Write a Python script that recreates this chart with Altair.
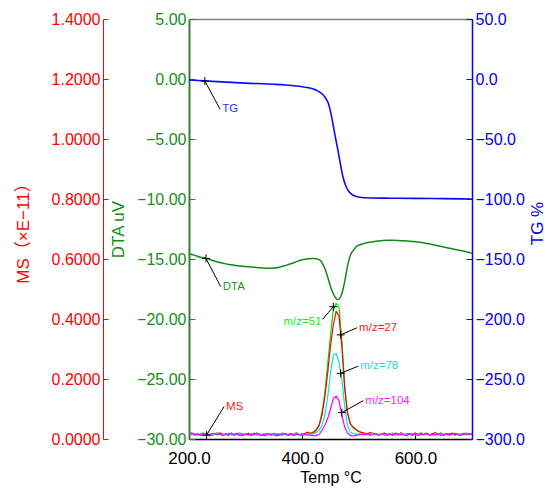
import altair as alt
import pandas as pd

FONT = "Liberation Sans, Arial, Noto Sans CJK JP, sans-serif"
W, H = 283, 420
MS_OFF = 86

# ---------------- data ----------------
# TG (%)
tg_T = [200, 250, 300, 350, 370, 390, 400, 410, 417, 425, 435, 440, 446, 450, 454,
        458, 463, 468, 472, 477, 481, 487, 493, 500, 511, 550, 600, 650, 700]
tg_V = [-0.8, -2.2, -3.4, -4.4, -5.0, -5.9, -6.5, -7.2, -7.9, -9.3, -12.3, -15.0, -20.0, -27.0, -36.5,
        -47.0, -59.0, -72.0, -81.5, -89.0, -92.8, -96.0, -97.5, -98.4, -99.0, -99.3, -99.5, -99.7, -100.0]

# DTA (uV)
dta_T = [200, 210, 220, 230, 240, 250, 260, 270, 280, 290, 300, 310, 320, 330, 340, 350, 360, 370,
         380, 390, 400, 410, 420, 425, 430, 435, 440, 445, 450, 455, 460, 463, 466, 470, 475, 480,
         485, 490, 495, 500, 510, 520, 530, 540, 550, 560, 570, 580, 590, 600, 620, 640, 660, 680, 700]
dta_V = [-14.55, -14.7, -14.85, -14.95, -15.1, -15.25, -15.35, -15.45, -15.52, -15.58, -15.63, -15.67,
         -15.7, -15.74, -15.78, -15.76, -15.68, -15.55, -15.4, -15.22, -15.07, -14.98, -14.95, -14.98,
         -15.05, -15.3, -15.8, -16.5, -17.3, -17.9, -18.3, -18.4, -18.3, -17.9, -16.9, -15.6, -14.7,
         -14.3, -14.0, -13.85, -13.7, -13.6, -13.52, -13.47, -13.44, -13.44, -13.45, -13.48, -13.52,
         -13.57, -13.7, -13.9, -14.1, -14.3, -14.52]

# MS (x E-11), sampled every 5 degC from 200 to 700
ms_T = list(range(200, 701, 5))

ms51_pre = [0.016, 0.014, 0.018, 0.013, 0.017, 0.020, 0.015, 0.012, 0.018, 0.016,
            0.021, 0.014, 0.017, 0.013, 0.019, 0.015, 0.012, 0.017, 0.020, 0.014,
            0.016, 0.013, 0.018, 0.015, 0.021, 0.013, 0.016, 0.019, 0.014, 0.017,
            0.012, 0.018, 0.015, 0.020, 0.014, 0.016, 0.019, 0.013, 0.017, 0.015,
            0.018, 0.016, 0.020]
ms51_peak = [0.020, 0.024, 0.032, 0.048, 0.090, 0.155, 0.250, 0.345, 0.430, 0.452,
             0.440, 0.330, 0.180, 0.090, 0.050, 0.037, 0.030, 0.024, 0.020]
ms51_post = [0.018, 0.014, 0.017, 0.021, 0.013, 0.016, 0.019, 0.012, 0.017, 0.015,
             0.020, 0.014, 0.018, 0.013, 0.016, 0.019, 0.015, 0.012, 0.018, 0.016,
             0.021, 0.014, 0.017, 0.013, 0.019, 0.015, 0.017, 0.020, 0.013, 0.016,
             0.018, 0.014, 0.019, 0.015, 0.012, 0.017, 0.020, 0.014, 0.016]

ms27_pre = [0.015, 0.019, 0.013, 0.017, 0.014, 0.012, 0.018, 0.016, 0.011, 0.015,
            0.017, 0.020, 0.013, 0.016, 0.012, 0.018, 0.015, 0.019, 0.013, 0.011,
            0.017, 0.015, 0.012, 0.019, 0.014, 0.016, 0.012, 0.015, 0.018, 0.013,
            0.016, 0.011, 0.017, 0.014, 0.019, 0.012, 0.015, 0.017, 0.020, 0.014,
            0.016, 0.019, 0.023]
ms27_peak = [0.018, 0.022, 0.030, 0.045, 0.080, 0.140, 0.220, 0.310, 0.380, 0.425,
             0.410, 0.310, 0.170, 0.085, 0.050, 0.040, 0.032, 0.026, 0.022]
ms27_post = [0.020, 0.017, 0.022, 0.015, 0.018, 0.013, 0.016, 0.020, 0.014, 0.017,
             0.012, 0.019, 0.015, 0.021, 0.013, 0.016, 0.018, 0.014, 0.020, 0.012,
             0.017, 0.015, 0.019, 0.013, 0.016, 0.022, 0.014, 0.017, 0.012, 0.018,
             0.015, 0.020, 0.013, 0.017, 0.015, 0.019, 0.014, 0.016, 0.018]

ms78_pre = [0.018, 0.015, 0.017, 0.014, 0.016, 0.019, 0.015, 0.017, 0.013, 0.016,
            0.018, 0.015, 0.014, 0.017, 0.016, 0.013, 0.018, 0.015, 0.017, 0.014,
            0.016, 0.019, 0.015, 0.013, 0.017, 0.016, 0.014, 0.018, 0.015, 0.017,
            0.013, 0.016, 0.018, 0.014, 0.017, 0.015, 0.013, 0.016, 0.018, 0.015,
            0.017, 0.014, 0.016]
ms78_peak = [0.016, 0.018, 0.022, 0.030, 0.045, 0.080, 0.140, 0.220, 0.280, 0.285,
             0.255, 0.200, 0.110, 0.045, 0.022, 0.018, 0.016, 0.017, 0.015]
ms78_post = [0.017, 0.014, 0.016, 0.019, 0.015, 0.013, 0.017, 0.016, 0.014, 0.018,
             0.015, 0.013, 0.016, 0.019, 0.014, 0.017, 0.015, 0.018, 0.013, 0.016,
             0.014, 0.017, 0.019, 0.015, 0.013, 0.016, 0.018, 0.014, 0.017, 0.015,
             0.013, 0.016, 0.019, 0.015, 0.017, 0.014, 0.016, 0.018, 0.015]

ms104_pre = [0.017, 0.020, 0.014, 0.016, 0.012, 0.018, 0.015, 0.011, 0.017, 0.019,
             0.014, 0.016, 0.012, 0.018, 0.015, 0.020, 0.013, 0.016, 0.011, 0.017,
             0.014, 0.019, 0.012, 0.016, 0.018, 0.013, 0.015, 0.011, 0.017, 0.014,
             0.019, 0.016, 0.012, 0.015, 0.018, 0.013, 0.017, 0.011, 0.016, 0.014,
             0.012, 0.015, 0.013]
ms104_peak = [0.013, 0.011, 0.012, 0.015, 0.030, 0.045, 0.068, 0.100, 0.135, 0.143,
              0.128, 0.080, 0.040, 0.020, 0.012, 0.010, 0.012, 0.014, 0.016]
ms104_post = [0.014, 0.017, 0.012, 0.016, 0.019, 0.013, 0.015, 0.018, 0.012, 0.016,
              0.014, 0.019, 0.013, 0.017, 0.015, 0.011, 0.018, 0.014, 0.016, 0.012,
              0.017, 0.015, 0.019, 0.013, 0.016, 0.014, 0.018, 0.012, 0.015, 0.017,
              0.013, 0.016, 0.019, 0.014, 0.012, 0.017, 0.015, 0.018, 0.014]

ions = ["m/z=51", "m/z=27", "m/z=78", "m/z=104"]
ion_colors = ["#00e600", "#ff0000", "#00e5e5", "#ff00ff"]

# annotations: marker point (T0, v0) -> label anchor (T1, v1)
tg_ann = {"T0": [228], "v0": [-1.7], "T1": [255], "v1": [-25.3], "label": ["TG"], "tc": ["#3030ff"]}
dta_ann = {"T0": [230], "v0": [-14.95], "T1": [256], "v1": [-17.3], "label": ["DTA"], "tc": ["#1a9a1a"]}
ms_ann = {"T0": [231, 455, 468, 468, 470],
          "v0": [0.013, 0.441, 0.347, 0.219, 0.088],
          "T1": [262, 436, 497, 499, 508],
          "v1": [0.108, 0.399, 0.371, 0.243, 0.128],
          "label": ["MS", "m/z=51", "m/z=27", "m/z=78", "m/z=104"],
          "tc": ["#ff1a1a", "#1ee61e", "#ff1a1a", "#1ad8e6", "#ff1aff"],
          "side": ["L", "R", "L", "L", "L"]}

ms_ticks = [0.0, 0.2, 0.4, 0.6, 0.8, 1.0, 1.2, 1.4]
dta_ticks = [5, 0, -5, -10, -15, -20, -25, -30]
tg_ticks = [50, 0, -50, -100, -150, -200, -250, -300]
x_ticks = [200, 400, 600]

# ---------------- frames ----------------
ms51 = ms51_pre + ms51_peak + ms51_post
ms27 = ms27_pre + ms27_peak + ms27_post
ms78 = ms78_pre + ms78_peak + ms78_post
ms104 = ms104_pre + ms104_peak + ms104_post
for s in (ms51, ms27, ms78, ms104):
    assert len(s) == len(ms_T)
assert len(dta_T) == len(dta_V) and len(tg_T) == len(tg_V)

ms_df = pd.DataFrame({
    "T": ms_T * 4,
    "MS": ms51 + ms27 + ms78 + ms104,
    "ion": sum([[n] * len(ms_T) for n in ions], []),
})
dta_df = pd.DataFrame({"T": dta_T, "DTA": dta_V})
tg_df = pd.DataFrame({"T": tg_T, "TG": tg_V})
tg_ann_df = pd.DataFrame(tg_ann)
dta_ann_df = pd.DataFrame(dta_ann)
ms_ann_df = pd.DataFrame(ms_ann)

# ---------------- scales ----------------
xs = alt.Scale(domain=[200, 700], nice=False, zero=False)
ms_s = alt.Scale(domain=[0, 1.4], nice=False, zero=False)
dta_s = alt.Scale(domain=[-30, 5], nice=False, zero=False)
tg_s = alt.Scale(domain=[-300, 50], nice=False, zero=False)

RED, GREEN, GREEN_AX, BLUE = "#ff0000", "#159015", "#3a7a3a", "#0000ff"


def main_y_axis(color, dom_color, dom_w, title, fmt, vals, orient, offset, title_x,
                title_y=H / 2, title_size=17):
    return alt.Axis(orient=orient, offset=offset, values=vals, format=fmt, grid=False,
                    ticks=False, tickSize=0, labelPadding=3, labelFlush=False,
                    labelColor=color, labelFont=FONT, labelFontSize=16,
                    domainColor=dom_color, domainWidth=dom_w,
                    title=title, titleColor=color, titleFont=FONT, titleFontSize=title_size,
                    titleFontWeight="normal", titleAngle=270, titleBaseline="middle",
                    titleX=title_x, titleY=title_y)


def tick_axis(color, vals, orient, offset, size=6):
    return alt.Axis(orient=orient, offset=offset, values=vals, grid=False, labels=False,
                    domain=False, ticks=True, tickSize=size, tickColor=color, tickWidth=1,
                    title=None)


ms_axis = main_y_axis(RED, RED, 1, "MS（×E−11）", ".4f", ms_ticks, "left", MS_OFF, -80)
dta_axis = main_y_axis(GREEN, GREEN_AX, 2, "DTA uV", ".2f", dta_ticks, "left", 0, -71)
tg_axis = main_y_axis(BLUE, BLUE, 1.5, "TG %", ".1f", tg_ticks, "right", 0, 65, H / 2 - 6, 17)

x_axis = alt.Axis(orient="bottom", values=x_ticks, format=".1f", grid=False, ticks=False,
                  tickSize=0, labelPadding=11, labelFlush=False, labelColor="black",
                  labelFont=FONT, labelFontSize=17, domainColor="black", domainWidth=1.5,
                  title="Temp °C", titleColor="black", titleFont=FONT, titleFontSize=16,
                  titleFontWeight="normal", titleBaseline="middle", titleY=38)
x_in_ticks = alt.Axis(orient="top", offset=-H, values=x_ticks, grid=False, labels=False,
                      domain=False, ticks=True, tickSize=5, tickColor="black", title=None)
x_top = alt.Axis(orient="top", offset=0, grid=False, labels=False, ticks=False,
                 domain=True, domainColor="#808080", domainWidth=1.5, title=None)

# ---------------- layers ----------------
ms_lines = alt.Chart(ms_df).mark_line(strokeWidth=1.2).encode(
    x=alt.X("T:Q", scale=xs, axis=None),
    y=alt.Y("MS:Q", scale=ms_s, axis=ms_axis),
    color=alt.Color("ion:N", scale=alt.Scale(domain=ions, range=ion_colors), legend=None),
)
dta_line = alt.Chart(dta_df).mark_line(strokeWidth=1.5, color="#128a12", interpolate="monotone").encode(
    x=alt.X("T:Q", scale=xs, axis=x_axis),
    y=alt.Y("DTA:Q", scale=dta_s, axis=dta_axis),
)
tg_line = alt.Chart(tg_df).mark_line(strokeWidth=1.6, color="#0a0aff", interpolate="monotone").encode(
    x=alt.X("T:Q", scale=xs, axis=None),
    y=alt.Y("TG:Q", scale=tg_s, axis=tg_axis),
)


def rule_layer(df, scale, yaxis, xaxis):
    return alt.Chart(df).mark_rule(color="black", strokeWidth=1).encode(
        x=alt.X("T0:Q", scale=xs, axis=xaxis), x2="T1:Q",
        y=alt.Y("v0:Q", scale=scale, axis=yaxis), y2="v1:Q",
    )


def point_layer(df, scale):
    return alt.Chart(df).mark_point(shape="M-1,0L1,0M0,-1L0,1", size=64, filled=False,
                                    color="black", strokeWidth=1, opacity=1).encode(
        x=alt.X("T0:Q", scale=xs, axis=None),
        y=alt.Y("v0:Q", scale=scale, axis=None),
    )


def text_layer(df, scale, align="left", dx=2, dy=0):
    return alt.Chart(df).mark_text(align=align, baseline="middle", dx=dx, dy=dy,
                                   font=FONT, fontSize=11.5).encode(
        x=alt.X("T1:Q", scale=xs, axis=None),
        y=alt.Y("v1:Q", scale=scale, axis=None),
        text="label:N",
        color=alt.Color("tc:N", scale=None),
    )


ms_rule = rule_layer(ms_ann_df, ms_s, tick_axis(RED, ms_ticks, "right", -(W + MS_OFF), 5), None)
dta_rule = rule_layer(dta_ann_df, dta_s, tick_axis(GREEN, dta_ticks, "right", -W), x_in_ticks)
tg_rule = rule_layer(tg_ann_df, tg_s, tick_axis(BLUE, tg_ticks, "left", -W), x_top)

ms_text_l = text_layer(ms_ann_df, ms_s).transform_filter(alt.datum.side == "L")
ms_text_r = text_layer(ms_ann_df, ms_s, align="right", dx=-1, dy=3).transform_filter(alt.datum.side == "R")

chart = alt.layer(
    ms_lines, dta_line, tg_line,
    ms_rule, dta_rule, tg_rule,
    point_layer(ms_ann_df, ms_s), point_layer(dta_ann_df, dta_s), point_layer(tg_ann_df, tg_s),
    ms_text_l, ms_text_r, text_layer(dta_ann_df, dta_s), text_layer(tg_ann_df, tg_s),
).resolve_scale(
    x="shared", y="independent"
).resolve_axis(
    x="independent", y="independent"
).properties(
    width=W, height=H,
    autosize=alt.AutoSizeParams(type="none"),
    padding={"left": 181, "top": 11, "right": 74, "bottom": 47},
).configure_view(stroke=None)

chart.save("out.html", embed_options={"renderer": "svg", "actions": False})
